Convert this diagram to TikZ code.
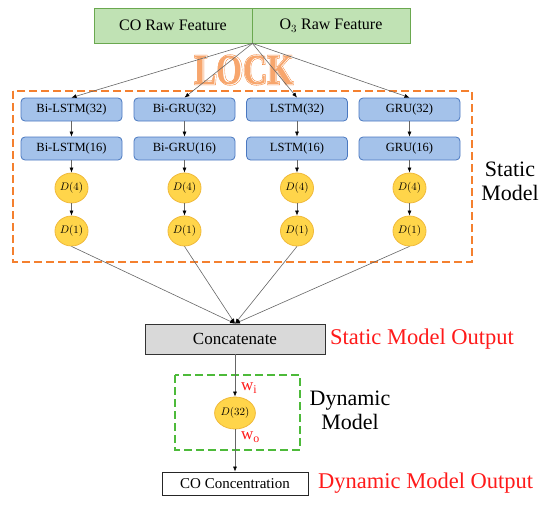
\documentclass[tikz,border=0pt]{standalone}
\usepackage{fontspec}
\setmainfont{Liberation Serif}
\newfontface\lockouter{Liberation Serif Bold}[FakeBold=5]
\newfontface\lockinner{Liberation Serif Bold}[FakeBold=2.5]
\newfontface\lockcore{Liberation Serif Bold}
\usetikzlibrary{arrows.meta,positioning,shapes.geometric}
\definecolor{rawgreen}{HTML}{C0E2B4}
\definecolor{rawedge}{HTML}{6AA84F}
\definecolor{rnnblue}{HTML}{A4C2EA}
\definecolor{rnnedge}{HTML}{4A78C0}
\definecolor{denseyellow}{HTML}{FFD54A}
\definecolor{denseedge}{HTML}{F0B93A}
\definecolor{lockorange}{HTML}{F4802F}
\definecolor{dynagreen}{HTML}{4DBA3A}
\definecolor{outred}{HTML}{FF1A1A}
\tikzset{
  rawbox/.style={draw=rawedge, fill=rawgreen, line width=0.8pt, minimum width=158pt, minimum height=35pt, inner sep=0pt, font=\fontsize{16}{18}\selectfont},
  rnnbox/.style={draw=rnnedge, fill=rnnblue, line width=0.8pt, rounded corners=4pt, minimum width=101pt, minimum height=23pt, inner sep=0pt, font=\fontsize{12.5}{14}\selectfont},
  dense/.style={ellipse, draw=denseedge, fill=denseyellow, line width=0.8pt, minimum width=33pt, minimum height=30pt, inner sep=0pt, font=\fontsize{10.5}{12}\selectfont},
  concatbox/.style={draw=black!80, fill=black!15, line width=0.8pt, minimum width=180pt, minimum height=30pt, inner sep=0pt, font=\fontsize{17}{19}\selectfont},
  outbox/.style={draw=black!85, fill=white, line width=0.8pt, minimum width=146pt, minimum height=23pt, inner sep=0pt, font=\fontsize{15}{17}\selectfont},
  redlabel/.style={text=outred, font=\fontsize{22.5}{25}\selectfont, inner sep=0pt},
  blacklabel/.style={align=center, font=\fontsize{22}{24}\selectfont, inner sep=0pt},
  weightlabel/.style={text=outred, font=\fontsize{17}{19}\selectfont, inner sep=0pt},
  lockmark/.style={inner sep=0pt, font=\fontsize{43}{45}\selectfont},
  arrow/.style={-{Latex[length=5pt,width=4pt,color=black]}, draw=black!60, line width=0.6pt},
  staticframe/.style={draw=lockorange, dash pattern=on 8pt off 4pt, line width=2.6pt},
  dynaframe/.style={draw=dynagreen, dash pattern=on 8pt off 4pt, line width=2.6pt}
}
\begin{document}
\begin{tikzpicture}[x=1pt, y=-1pt]
\useasboundingbox (0,0) rectangle (550,506);
% frames
\draw[staticframe] (13,91) rectangle (472,262);
\draw[dynaframe] (175,375) rectangle (300,450);
% inputs
\node[rawbox] (coraw) at (173,25.5) {CO Raw Feature};
\node[rawbox] (othreeraw) at (331,25.5) {O$_3$ Raw Feature};
% lock mark, drawn in three layers for the outlined look
\node[lockmark, text=lockorange] (lock) at (244,70) {\lockouter\scalebox{0.78}[1]{LOCK}};
\node[lockmark, text=white] (lockgap) at (244,70) {\lockinner\scalebox{0.78}[1]{LOCK}};
\node[lockmark, text=lockorange!70] (lockfill) at (244,70) {\lockcore\scalebox{0.78}[1]{LOCK}};
% static branches
\node[rnnbox] (bilstmA) at (71.5,109.5) {Bi-LSTM(32)};
\node[rnnbox] (bigruA) at (184.5,109.5) {Bi-GRU(32)};
\node[rnnbox] (lstmA) at (297,109.5) {LSTM(32)};
\node[rnnbox] (gruA) at (409.5,109.5) {GRU(32)};
\node[rnnbox] (bilstmB) at (71.5,148.5) {Bi-LSTM(16)};
\node[rnnbox] (bigruB) at (184.5,148.5) {Bi-GRU(16)};
\node[rnnbox] (lstmB) at (297,148.5) {LSTM(16)};
\node[rnnbox] (gruB) at (409.5,148.5) {GRU(16)};
\node[dense] (dfourA) at (71.5,188) {$D(4)$};
\node[dense] (dfourB) at (184.5,188) {$D(4)$};
\node[dense] (dfourC) at (297,188) {$D(4)$};
\node[dense] (dfourD) at (409.5,188) {$D(4)$};
\node[dense] (doneA) at (71.5,231) {$D(1)$};
\node[dense] (doneB) at (184.5,231) {$D(1)$};
\node[dense] (doneC) at (297,231) {$D(1)$};
\node[dense] (doneD) at (409.5,231) {$D(1)$};
\node[blacklabel] (static) at (510,181) {Static\\Model};
% merge and dynamic part
\node[concatbox] (concat) at (235,339) {Concatenate};
\node[redlabel, anchor=west] (staticout) at (330,339) {Static Model Output};
\node[dense, minimum width=34pt, minimum height=32pt] (dyn) at (235,413) {$D(32)$};
\node[weightlabel, anchor=west] (wi) at (241,388) {w$_\mathrm{i}$};
\node[weightlabel, anchor=west] (wo) at (241,437) {w$_\mathrm{o}$};
\node[blacklabel] (dynamic) at (350,410) {Dynamic\\Model};
\node[outbox] (conc) at (235,483.5) {CO Concentration};
\node[redlabel, anchor=west] (dynout) at (318,483) {Dynamic Model Output};
% connectors
\draw[arrow] (coraw.south east) -- (bilstmA.north);
\draw[arrow] (coraw.south east) -- (bigruA.north);
\draw[arrow] (coraw.south east) -- (lstmA.north);
\draw[arrow] (coraw.south east) -- (gruA.north);
\draw[arrow] (bilstmA) -- (bilstmB);
\draw[arrow] (bigruA) -- (bigruB);
\draw[arrow] (lstmA) -- (lstmB);
\draw[arrow] (gruA) -- (gruB);
\draw[arrow] (bilstmB) -- (dfourA);
\draw[arrow] (bigruB) -- (dfourB);
\draw[arrow] (lstmB) -- (dfourC);
\draw[arrow] (gruB) -- (dfourD);
\draw[arrow] (dfourA) -- (doneA);
\draw[arrow] (dfourB) -- (doneB);
\draw[arrow] (dfourC) -- (doneC);
\draw[arrow] (dfourD) -- (doneD);
\draw[arrow] (doneA.south) -- (concat.north);
\draw[arrow] (doneB.south) -- (concat.north);
\draw[arrow] (doneC.south) -- (concat.north);
\draw[arrow] (doneD.south) -- (concat.north);
\draw[arrow] (concat) -- (dyn);
\draw[arrow] (dyn) -- (conc);
\end{tikzpicture}
\end{document}
